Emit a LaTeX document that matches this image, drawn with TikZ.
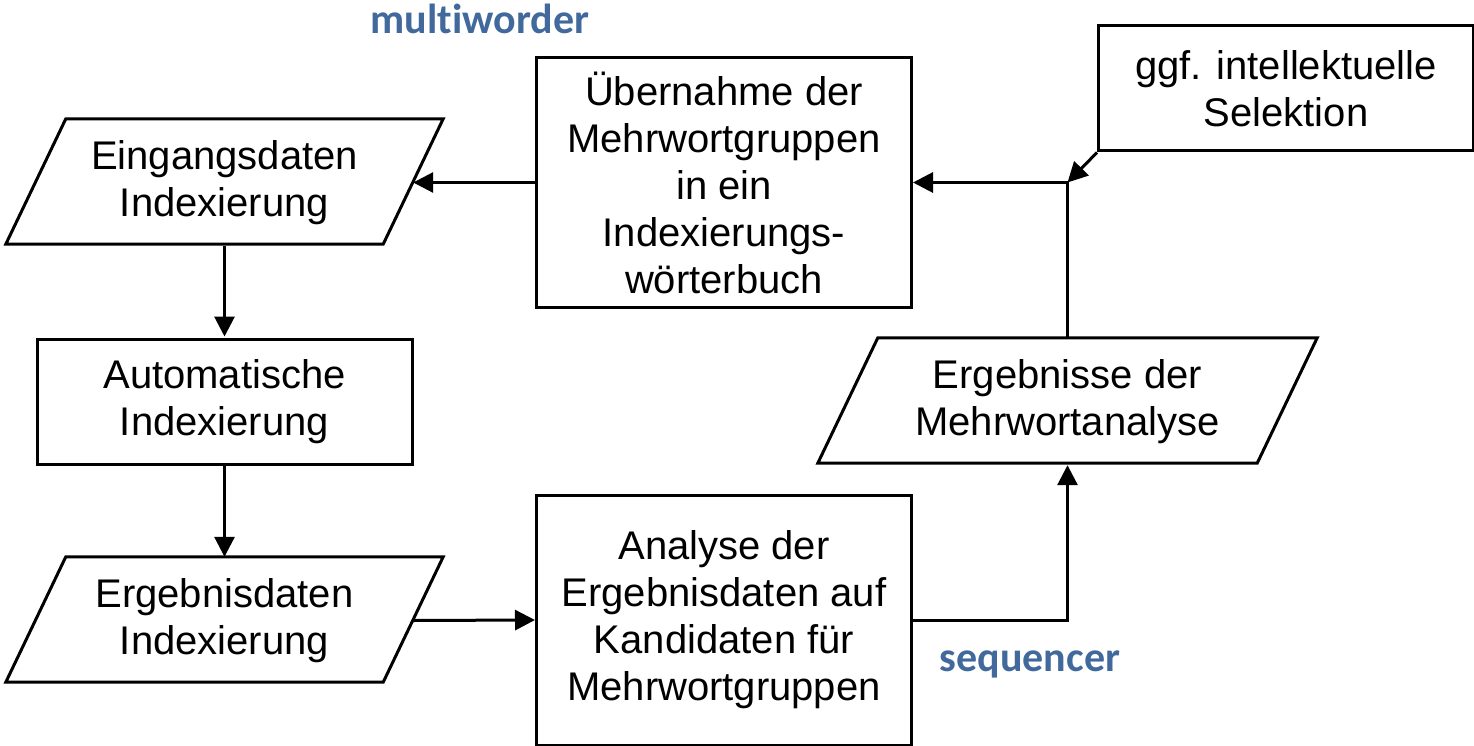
\documentclass[tikz,border=0pt]{standalone}
\usepackage{fontspec}
\setmainfont{Liberation Sans}
\newfontfamily\labelfont[RawFeature={-liga;-dlig;-clig}]{Carlito}
\usetikzlibrary{arrows.meta,calc}
\definecolor{labelblue}{RGB}{65,105,156}
\begin{document}
\begin{tikzpicture}[x=1pt,y=-1pt,
  every node/.style={font=\fontsize{40}{47}\selectfont, align=center, inner sep=0pt},
  frame/.style={draw, line width=3pt},
  procbox/.style={frame, minimum width=375pt, minimum height=125pt},
  databox/.style={minimum width=377pt, minimum height=125pt},
  link/.style={line width=3pt, -{Triangle[length=20pt,width=20pt]}},
  tag/.style={font=\labelfont\bfseries\fontsize{42}{48}\selectfont, text=labelblue}]
\useasboundingbox (0,0) rectangle (1474,746);

% data (parallelogram) nodes
\node[databox] (eing) at (224.5,182.5) {Eingangsdaten\\Indexierung};
\node[databox] (erg) at (224.5,620.5) {Ergebnisdaten\\Indexierung};
\node[databox, minimum width=439pt] (mwa) at (1067.5,401.5) {Ergebnisse der\\Mehrwortanalyse};
\foreach \n in {eing,erg,mwa}
  \draw[frame] ($(\n.south west)+(-30,-1)$) -- ($(\n.south east)+(-30,-1)$)
     -- ($(\n.north east)+(30,-1)$) -- ($(\n.north west)+(30,-1)$) -- cycle;

% process boxes
\node[procbox] (auto) at (224.5,401.5) {Automatische\\Indexierung};
\node[procbox, minimum height=249pt] (ueber) at (724,182.5) {Übernahme der\\Mehrwortgruppen\\in ein\\Indexierungs-\\wörterbuch};
\node[procbox, minimum height=250pt] (anal) at (724,620) {Analyse der\\Ergebnisdaten auf\\Kandidaten für\\Mehrwortgruppen};
\node[procbox] (sel) at (1286,88.5) {ggf. intellektuelle\\Selektion};

% labels
\node[tag] (lmw) at (480,19) {multiworder};
\node[tag] (lseq) at (1030,664) {sequencer};

% connectors
\coordinate (bend) at (anal.east -| mwa.south);
\coordinate (join) at (ueber.east -| mwa.north);
\draw[link] ([yshift=-1pt]eing.south) -- ([yshift=1pt]auto.north);
\draw[link] (auto.south) -- ([yshift=1pt]erg.north);
\draw[link] (erg.east) -- (anal.west);
\draw[link] (anal.east) -- (bend) -- ([yshift=-1pt]mwa.south);
\draw[link] ([yshift=1pt]mwa.north) -- (join) -- (ueber.east);
\draw[link] (ueber.west) -- (eing.east);
\draw[link] (sel.south west) -- (join);
\end{tikzpicture}
\end{document}
